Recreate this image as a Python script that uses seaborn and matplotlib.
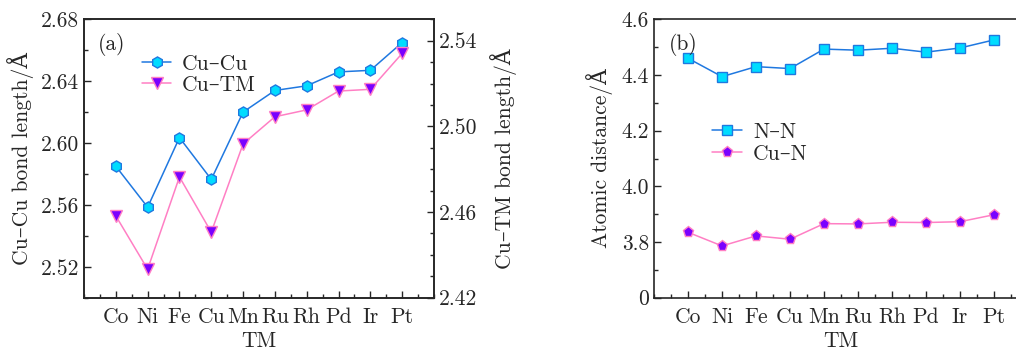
import matplotlib
matplotlib.use("Agg")
import matplotlib.pyplot as plt
import seaborn as sns
import pandas as pd
import numpy as np
from matplotlib.ticker import MultipleLocator, FixedLocator, FixedFormatter
from matplotlib.lines import Line2D

tm = ["Co", "Ni", "Fe", "Cu", "Mn", "Ru", "Rh", "Pd", "Ir", "Pt"]
cu_cu = [2.585, 2.5585, 2.6035, 2.5765, 2.620, 2.634, 2.637, 2.646, 2.647, 2.665]
cu_tm = [2.4582, 2.4333, 2.4764, 2.4506, 2.4918, 2.5045, 2.5077, 2.5165, 2.5173, 2.5341]
n_n = [4.460, 4.394, 4.430, 4.423, 4.493, 4.489, 4.496, 4.482, 4.497, 4.526]
cu_n = [3.835, 3.786, 3.822, 3.810, 3.866, 3.865, 3.871, 3.870, 3.873, 3.898]

left_ticks = [2.52, 2.56, 2.60, 2.64, 2.68]
right_ticks = [2.42, 2.46, 2.50, 2.54]
b_ticks = [3.6, 3.8, 4.0, 4.2, 4.4, 4.6]
b_labels = ["0", "3.8", "4.0", "4.2", "4.4", "4.6"]

sns.set_style("ticks")
plt.rcParams['font.family'] = ['cmr10', 'DejaVu Serif']
plt.rcParams['mathtext.fontset'] = 'cm'
plt.rcParams['axes.unicode_minus'] = False

BLUE = "#1f78e0"
CYAN = "#00dcff"
PINK = "#ff7fc4"
PURPLE = "#7a00ff"
FS = 15.5

df = pd.DataFrame({"x": np.arange(len(tm)), "cu_cu": cu_cu, "cu_tm": cu_tm,
                   "n_n": n_n, "cu_n": cu_n})

fig = plt.figure(figsize=(10.16, 3.49), dpi=100)
axa = fig.add_axes([84/1016, 51.3/349, 350/1016, 278.4/349])
axb = fig.add_axes([654/1016, 51.3/349, 374/1016, 278.4/349])

def style(ax):
    ax.tick_params(direction="in", which="both", labelsize=FS, length=5, width=1)
    ax.tick_params(which="minor", length=3)
    for s in ax.spines.values():
        s.set_linewidth(1.2)

# Panel (a)
sns.lineplot(data=df, x="x", y="cu_cu", ax=axa, color=BLUE, lw=1.1,
             marker="h", markersize=8, markerfacecolor=CYAN, markeredgecolor=BLUE,
             markeredgewidth=1)
axa2 = axa.twinx()
sns.lineplot(data=df, x="x", y="cu_tm", ax=axa2, color=PINK, lw=1.1,
             marker="v", markersize=8, markerfacecolor=PURPLE, markeredgecolor=PINK,
             markeredgewidth=1)
axa.set_xlim(-1, 10)
axa.set_ylim(2.50, 2.68)
axa2.set_ylim(2.42, 2.55)
axa.yaxis.set_major_locator(FixedLocator(left_ticks))
axa.yaxis.set_major_formatter(FixedFormatter([f"{v:.2f}" for v in left_ticks]))
axa.yaxis.set_minor_locator(MultipleLocator(0.02))
axa2.yaxis.set_major_locator(FixedLocator(right_ticks))
axa2.yaxis.set_major_formatter(FixedFormatter([f"{v:.2f}" for v in right_ticks]))
axa2.yaxis.set_minor_locator(MultipleLocator(0.01))
for ax in (axa, axb):
    ax.xaxis.set_major_locator(FixedLocator(list(range(len(tm)))))
    ax.xaxis.set_major_formatter(FixedFormatter(tm))
    ax.xaxis.set_minor_locator(MultipleLocator(0.5))
style(axa); style(axa2); style(axb)
axa.tick_params(axis="x", pad=7)
axb.tick_params(axis="x", pad=7)
axa.set_xlabel("TM", fontsize=FS, labelpad=3)
axa.set_ylabel("Cu–Cu bond length/Å", fontsize=FS, labelpad=5)
axa2.set_ylabel("Cu–TM bond length/Å", fontsize=FS, labelpad=9)
axa.text(0.04, 0.91, "(a)", transform=axa.transAxes, fontsize=FS, va="center")
ha = [Line2D([], [], color=BLUE, lw=1.1, marker="h", markersize=8, markerfacecolor=CYAN,
             markeredgecolor=BLUE),
      Line2D([], [], color=PINK, lw=1.1, marker="v", markersize=8, markerfacecolor=PURPLE,
             markeredgecolor=PINK)]
axa.legend(ha, ["Cu–Cu", "Cu–TM"], loc="upper left", bbox_to_anchor=(0.166, 0.875),
           frameon=False, fontsize=FS, handlelength=1.35, labelspacing=0.08,
           handletextpad=0.5, borderpad=0, borderaxespad=0)

# Panel (b)
sns.lineplot(data=df, x="x", y="n_n", ax=axb, color=BLUE, lw=1.1,
             marker="s", markersize=7, markerfacecolor=CYAN, markeredgecolor=BLUE,
             markeredgewidth=1)
sns.lineplot(data=df, x="x", y="cu_n", ax=axb, color=PINK, lw=1.1,
             marker="p", markersize=8, markerfacecolor=PURPLE, markeredgecolor=PINK,
             markeredgewidth=1)
axb.set_xlim(-1, 10)
axb.set_ylim(3.6, 4.6)
axb.yaxis.set_major_locator(FixedLocator(b_ticks))
axb.yaxis.set_major_formatter(FixedFormatter(b_labels))
axb.yaxis.set_minor_locator(MultipleLocator(0.1))
axb.set_xlabel("TM", fontsize=FS, labelpad=3)
axb.set_ylabel("Atomic distance/Å", fontsize=FS, labelpad=6)
axb.text(0.04, 0.91, "(b)", transform=axb.transAxes, fontsize=FS, va="center")
hb = [Line2D([], [], color=BLUE, lw=1.1, marker="s", markersize=7, markerfacecolor=CYAN,
             markeredgecolor=BLUE),
      Line2D([], [], color=PINK, lw=1.1, marker="p", markersize=8, markerfacecolor=PURPLE,
             markeredgecolor=PINK)]
axb.legend(hb, ["N–N", "Cu–N"], loc="upper left", bbox_to_anchor=(0.155, 0.63),
           frameon=False, fontsize=FS, handlelength=1.4, labelspacing=0.12,
           handletextpad=0.5, borderpad=0, borderaxespad=0)

fig.savefig("out.png", dpi=100)
